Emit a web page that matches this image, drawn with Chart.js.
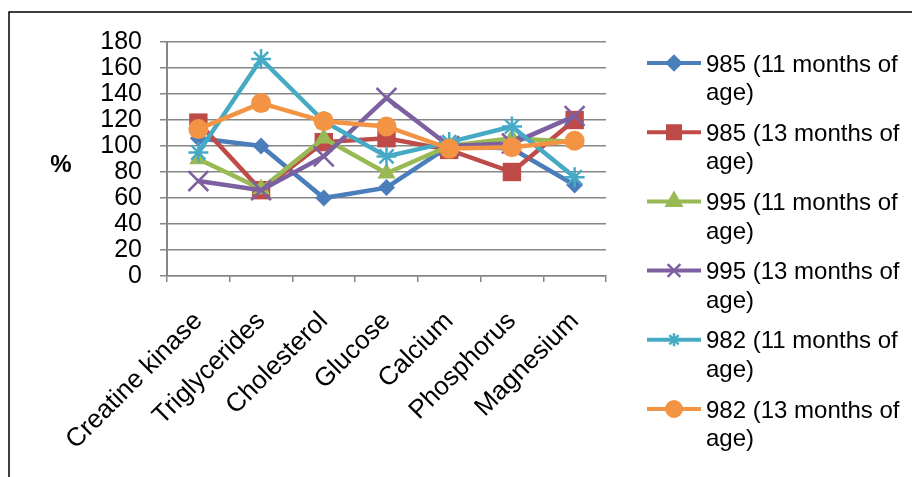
<!DOCTYPE html>
<html>
<head>
<meta charset="utf-8">
<script src="https://cdn.jsdelivr.net/npm/chart.js@4.4.1/dist/chart.umd.min.js"></script>
<style>
  html, body { margin: 0; padding: 0; background: #fff; }
  #wrap { width: 912px; height: 477px; position: relative; }
</style>
</head>
<body>
<div id="wrap"><canvas id="chart" width="912" height="477"></canvas></div>
<script>
const categories = ['Creatine kinase', 'Triglycerides', 'Cholesterol', 'Glucose', 'Calcium', 'Phosphorus', 'Magnesium'];
const s985m11 = [106, 100, 60, 68, 100, 98, 70];
const s985m13 = [118, 66, 103, 106, 97, 80, 120];
const s995m11 = [90, 67, 106, 79, 100, 106, 103];
const s995m13 = [73, 66, 92, 137, 100, 102, 123];
const s982m11 = [95, 167, 119, 92, 103, 115, 76];
const s982m13 = [113, 133, 119, 115, 98, 99, 104];
const seriesNames = ['985 (11 months of', '985 (13 months of', '995 (11 months of', '995 (13 months of', '982 (11 months of', '982 (13 months of'];
const yTicks = [0, 20, 40, 60, 80, 100, 120, 140, 160, 180];

const FONT = '"Liberation Sans", Arial, sans-serif';
const colors = ['#4a7ebb', '#be4b48', '#98b954', '#7d60a0', '#46aac5', '#f39444'];
const styles = ['rectRot', 'rect', 'triangle', 'crossRot', 'star', 'circle'];
const radii = [8.5, 13, 10.5, 14, 10, 10];
const legendRadii = [6, 8.5, 7, 9, 6.5, 7];
const allData = [s985m11, s985m13, s995m11, s995m13, s982m11, s982m13];

const datasets = allData.map((d, i) => ({
  label: seriesNames[i],
  data: d,
  borderColor: colors[i],
  backgroundColor: colors[i],
  borderWidth: 4.5,
  pointStyle: styles[i],
  pointRadius: radii[i],
  pointBorderWidth: (styles[i] === 'crossRot' || styles[i] === 'star') ? 2.5 : 0,
  pointBorderColor: colors[i],
  pointBackgroundColor: colors[i],
  tension: 0,
  order: allData.length - i
}));

// frame, "%" title and wrapped legend
const extras = {
  id: 'extras',
  beforeDraw(chart) {
    const ctx = chart.ctx;
    ctx.save();
    ctx.fillStyle = '#fff';
    ctx.fillRect(0, 0, chart.width, chart.height);
    ctx.strokeStyle = '#000';
    ctx.lineWidth = 1.5;
    ctx.beginPath();
    ctx.moveTo(9, 477);
    ctx.lineTo(9, 12);
    ctx.lineTo(912, 12);
    ctx.stroke();
    ctx.restore();
  },
  afterDraw(chart) {
    const ctx = chart.ctx;
    ctx.save();
    ctx.fillStyle = '#000';
    ctx.font = 'bold 24px ' + FONT;
    ctx.textAlign = 'center';
    ctx.textBaseline = 'middle';
    ctx.fillText('%', 61, 165);

    ctx.font = '24px ' + FONT;
    ctx.textAlign = 'left';
    const top = 63, step = 69.2, lh = 28.5;
    datasets.forEach((ds, i) => {
      const y = top + i * step;
      ctx.strokeStyle = colors[i];
      ctx.fillStyle = colors[i];
      ctx.lineWidth = 4;
      ctx.beginPath();
      ctx.moveTo(647, y);
      ctx.lineTo(701, y);
      ctx.stroke();
      ctx.lineWidth = (styles[i] === 'crossRot' || styles[i] === 'star') ? 2.5 : 0;
      Chart.helpers.drawPoint(ctx, {
        pointStyle: styles[i], radius: legendRadii[i], rotation: 0,
        borderWidth: ctx.lineWidth
      }, 674, y);
      ctx.fillStyle = '#000';
      ctx.fillText(ds.label, 706, y + 2);
      ctx.fillText('age)', 706, y + 2 + lh);
    });
    ctx.restore();
  }
};

new Chart(document.getElementById('chart'), {
  type: 'line',
  data: { labels: categories, datasets: datasets },
  plugins: [extras],
  options: {
    responsive: false,
    animation: false,
    layout: { padding: { left: 0, right: 306, top: 42, bottom: 0 } },
    plugins: { legend: { display: false }, tooltip: { enabled: false } },
    scales: {
      x: {
        offset: true,
        grid: { offset: true, drawOnChartArea: false, drawTicks: true, tickLength: 6, color: '#868686', lineWidth: 1.5 },
        border: { color: '#868686', width: 1.5 },
        ticks: {
          autoSkip: false, maxRotation: 45, minRotation: 45,
          color: '#000', padding: 24,
          font: { family: FONT, size: 26 }
        },
        afterFit(s) { s.height = 201; }
      },
      y: {
        min: 0, max: 180,
        afterBuildTicks(s) { s.ticks = yTicks.map(v => ({ value: v })); },
        grid: { color: '#868686', lineWidth: 1.5, tickLength: 7 },
        border: { color: '#868686', width: 2 },
        ticks: { autoSkip: false, color: '#000', padding: 18, font: { family: FONT, size: 25 } },
        afterFit(s) { s.width = 167; }
      }
    }
  }
});
</script>
</body>
</html>
